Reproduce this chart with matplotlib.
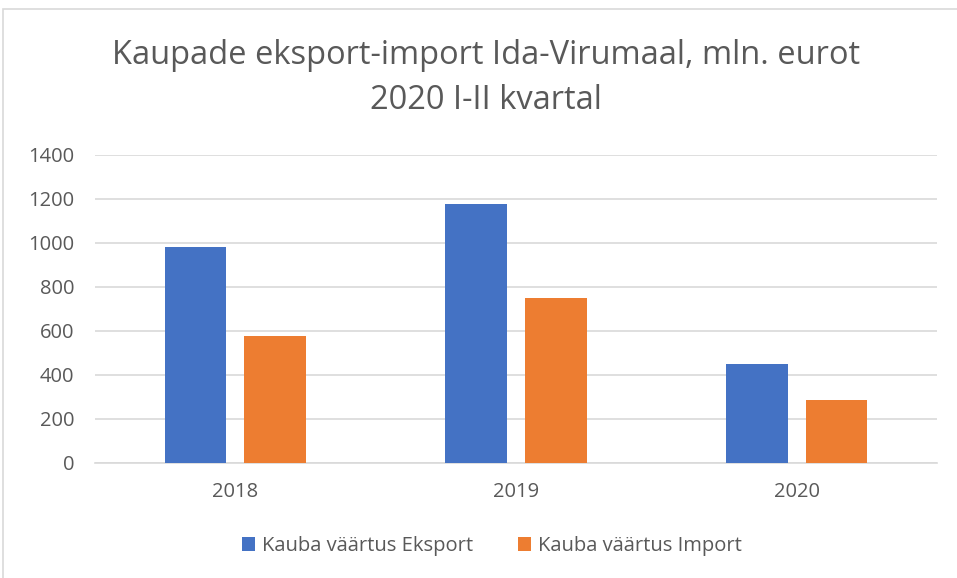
import numpy as np
import matplotlib
matplotlib.use("Agg")
import matplotlib.pyplot as plt
from matplotlib.patches import Rectangle

# Values (mln. eurot)
years = ["2018", "2019", "2020"]
eksport = [980, 1177, 450]
importt = [577, 750, 286]
series_names = ["Kauba väärtus Eksport", "Kauba väärtus Import"]
yticks = [0, 200, 400, 600, 800, 1000, 1200, 1400]

plt.rcParams['font.family'] = ['Open Sans', 'DejaVu Sans']
txt = '#595959'

W, H = 957, 578
fig = plt.figure(figsize=(W/100, H/100), dpi=100)

# chart frame
fig.patches.append(Rectangle((3/W, -0.1), 1.2, 1 - 9/H + 0.1, transform=fig.transFigure,
                             fill=False, edgecolor='#d9d9d9', lw=1.2))

ax = fig.add_axes([95/W, 1 - 463/H, (937-95)/W, (463-155)/H])
x = np.arange(len(years))
bw = 0.22
off = 0.142
ax.bar(x - off, eksport, bw, color='#4472c4', label=series_names[0], zorder=3)
ax.bar(x + off, importt, bw, color='#ed7d31', label=series_names[1], zorder=3)

ax.set_xlim(-0.5, 2.5)
ax.set_ylim(0, 1400)
ax.set_yticks(yticks)
ax.set_xticks(x)
ax.set_xticklabels(years)
ax.grid(axis='y', color='#d9d9d9', lw=1.2, zorder=0)
for s in ['top', 'right', 'left']:
    ax.spines[s].set_visible(False)
ax.spines['bottom'].set_color('#d9d9d9')
ax.spines['bottom'].set_linewidth(1.2)
ax.tick_params(length=0, labelsize=14.5, colors=txt)
ax.tick_params(axis='x', pad=14)
ax.tick_params(axis='y', pad=15)

fig.text(486/W, 1 - 78/H, "Kaupade eksport-import Ida-Virumaal, mln. eurot\n2020 I-II kvartal",
         ha='center', va='center', fontsize=23.5, color=txt, linespacing=1.45)

fig.legend(loc='center', bbox_to_anchor=(492/W, 1 - 546/H), ncol=2, frameon=False,
           fontsize=14.5, labelcolor=txt, handlelength=0.65, handleheight=0.65,
           columnspacing=2.2, handletextpad=0.35)

fig.savefig("out.png", dpi=100)
